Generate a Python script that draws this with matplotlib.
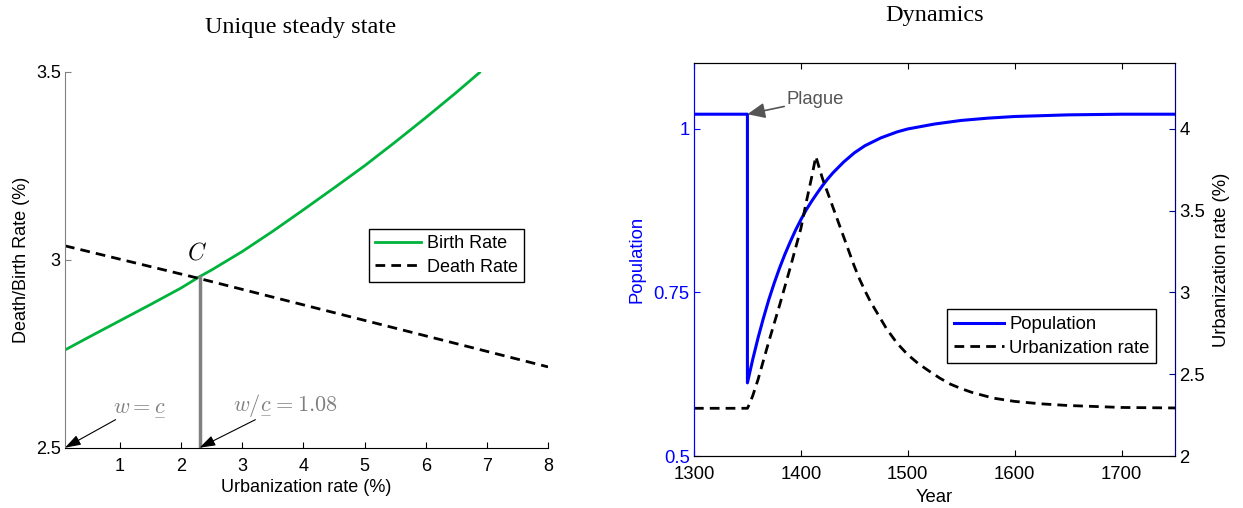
import matplotlib
matplotlib.use("Agg")
from matplotlib import pyplot as plt

plt.rcParams["font.family"] = ["Liberation Sans", "DejaVu Sans"]
plt.rcParams["mathtext.fontset"] = "cm"
plt.rcParams["xtick.direction"] = "in"
plt.rcParams["ytick.direction"] = "in"

# left panel: steady state
birth_x = [0.1, 0.5, 1.0, 1.5, 2.0, 2.3, 2.5, 3.0, 3.5, 4.0, 4.5, 5.0, 5.5, 6.0, 6.5, 6.88]
birth_y = [2.760, 2.795, 2.838, 2.881, 2.925, 2.955, 2.973, 3.022, 3.076, 3.133, 3.191,
           3.250, 3.313, 3.378, 3.445, 3.498]
death_x = [0.1, 2.3, 8.0]
death_y = [3.037, 2.950, 2.715]
steady_x = 2.3
steady_y = 2.955

# right panel: dynamics
pop_year = [1300, 1350, 1350, 1355, 1360, 1365, 1370, 1375, 1380, 1385, 1390, 1395, 1400,
            1405, 1410, 1415, 1420, 1425, 1430, 1440, 1450, 1460, 1475, 1490, 1500, 1525,
            1550, 1575, 1600, 1650, 1700, 1750]
pop = [1.022, 1.022, 0.612, 0.648, 0.681, 0.711, 0.739, 0.764, 0.787, 0.808, 0.827, 0.845,
       0.861, 0.876, 0.889, 0.901, 0.9125, 0.923, 0.9325, 0.949, 0.963, 0.974, 0.986, 0.995,
       0.9995, 1.007, 1.0125, 1.016, 1.0185, 1.021, 1.022, 1.022]
urb_year = [1300, 1350, 1352, 1355, 1360, 1370, 1380, 1390, 1400, 1405, 1410, 1414, 1420,
            1425, 1430, 1435, 1440, 1445, 1450, 1455, 1460, 1465, 1470, 1480, 1490, 1500,
            1510, 1520, 1530, 1540, 1550, 1560, 1580, 1600, 1625, 1650, 1700, 1750]
urb = [2.293, 2.293, 2.32, 2.37, 2.47, 2.70, 2.92, 3.15, 3.39, 3.55, 3.70, 3.83, 3.70,
       3.61, 3.52, 3.43, 3.34, 3.25, 3.16, 3.08, 3.01, 2.945, 2.89, 2.78, 2.69, 2.62,
       2.565, 2.52, 2.477, 2.44, 2.413, 2.39, 2.355, 2.335, 2.32, 2.31, 2.298, 2.295]
plague_year = 1350

fig = plt.figure(figsize=(12.43, 5.08), dpi=100)
ax1 = fig.add_axes([0.0523, 0.1187, 0.3886, 0.740])
ax2 = fig.add_axes([0.5583, 0.1018, 0.387, 0.774])
ax3 = ax2.twinx()

GREEN = "#00b33c"
GRAY = "#808080"
DASH = (3.5, 2.2)
FS_L = 13
FS_R = 13.3

# ---- left
ax1.plot(birth_x, birth_y, color=GREEN, lw=2, label="Birth Rate")
ax1.plot(death_x, death_y, color="black", lw=2, dashes=DASH, label="Death Rate")
ax1.plot([steady_x, steady_x], [2.5, steady_y], color=GRAY, lw=2.5)
ax1.set_xlim(0.1, 8)
ax1.set_ylim(2.5, 3.5)
ax1.set_xticks(range(1, 9))
ax1.set_yticks([2.5, 3, 3.5])
ax1.set_yticklabels(["2.5", "3", "3.5"])
ax1.spines[["top", "right"]].set_visible(False)
ax1.spines["left"].set_color(GRAY)
ax1.tick_params(axis="y", colors=GRAY, labelcolor="black", pad=3)
ax1.tick_params(axis="x", pad=7.5)
ax1.tick_params(labelsize=FS_L, length=4)
ax1.set_xlabel("Urbanization rate (%)", fontsize=FS_L, labelpad=3)
ax1.set_ylabel("Death/Birth Rate (%)", fontsize=FS_L, labelpad=4)
ax1.set_title("Unique steady state", family="Liberation Serif", fontsize=17.5, pad=28,
              x=0.487)
ax1.text(2.255, 3.016, "$C$", fontsize=17, ha="center", va="center")
arrow = dict(arrowstyle="-|>,head_length=0.6,head_width=0.2", color="black", lw=0.8,
             shrinkA=0, shrinkB=0)
ax1.annotate(r"$w = \underset{-}{c}$", xy=(0.1, 2.5), xytext=(0.88, 2.582), fontsize=16,
             color=GRAY, ha="left", va="bottom", arrowprops=arrow)
ax1.annotate(r"$w/\underset{-}{c} = 1.08$", xy=(steady_x, 2.5), xytext=(2.85, 2.582),
             fontsize=16, color=GRAY, ha="left", va="bottom", arrowprops=arrow)
leg1 = ax1.legend(loc="upper left", bbox_to_anchor=(0.2971, 0.5486),
                  bbox_transform=fig.transFigure, fontsize=FS_L, fancybox=False,
                  edgecolor="black", framealpha=1, handlelength=2.5,
                  borderpad=0.34, labelspacing=0.35, handletextpad=0.35, borderaxespad=0)
leg1.get_frame().set_linewidth(1)

# ---- right
ax2.plot(pop_year, pop, color="#0000ff", lw=2.2, label="Population")
ax3.plot(urb_year, urb, color="black", lw=2, dashes=DASH, label="Urbanization rate")
ax2.set_xlim(1300, 1750)
ax2.set_ylim(0.5, 1.1)
ax3.set_ylim(2, 4.4)
ax2.set_xticks([1300, 1400, 1500, 1600, 1700])
ax2.set_yticks([0.5, 0.75, 1])
ax2.set_yticklabels(["0.5", "0.75", "1"])
ax3.set_yticks([2, 2.5, 3, 3.5, 4])
ax3.set_yticklabels(["2", "2.5", "3", "3.5", "4"])
ax2.tick_params(axis="x", top=True, labelsize=FS_R, length=4, pad=7)
ax2.tick_params(axis="y", colors="#0000ff", labelsize=FS_R, length=4, pad=3)
ax3.tick_params(axis="y", colors="#000080", labelcolor="black", labelsize=FS_R, length=4,
                pad=3)
ax3.spines["left"].set_color("#0000ff")
ax3.spines["right"].set_color("#000080")
ax2.spines["left"].set_color("#0000ff")
ax2.spines["right"].set_color("#000080")
ax2.set_xlabel("Year", fontsize=FS_R, labelpad=4)
ax2.set_ylabel("Population", color="#0000ff", fontsize=FS_R, labelpad=6)
ax3.set_ylabel("Urbanization rate (%)", fontsize=FS_R, labelpad=6)
ax2.set_title("Dynamics", family="Liberation Serif", fontsize=17.5, pad=30)
ax2.annotate("Plague", xy=(plague_year, pop[0]), xytext=(1387, 1.044), fontsize=FS_R,
             color="#555555", ha="left", va="center",
             arrowprops=dict(arrowstyle="-|>,head_length=0.8,head_width=0.35",
                             color="#555555", lw=1.2, shrinkA=0, shrinkB=0))
h2, l2 = ax2.get_legend_handles_labels()
h3, l3 = ax3.get_legend_handles_labels()
leg2 = ax3.legend(h2 + h3, l2 + l3, loc="upper left", bbox_to_anchor=(0.7621, 0.391),
                  bbox_transform=fig.transFigure, fontsize=FS_R, fancybox=False,
                  edgecolor="black", framealpha=1, handlelength=2.7,
                  borderpad=0.36, labelspacing=0.36, handletextpad=0.3, borderaxespad=0)
leg2.get_frame().set_linewidth(1)

fig.savefig("out.png", dpi=100)
